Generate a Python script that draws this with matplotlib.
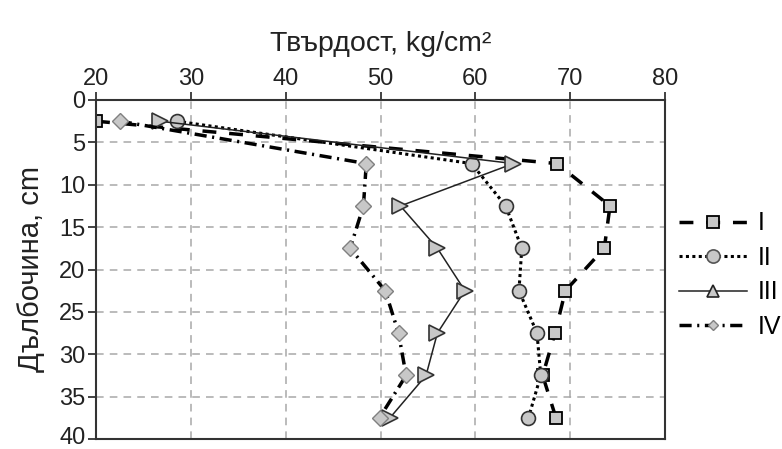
import matplotlib
matplotlib.use("Agg")
import matplotlib.pyplot as plt
from matplotlib.lines import Line2D
from matplotlib.transforms import ScaledTranslation

plt.rcParams['font.family'] = ['Liberation Sans', 'DejaVu Sans']

# depth (cm) and hardness (kg/cm2)
depth = [2.5, 7.5, 12.5, 17.5, 22.5, 27.5, 32.5, 37.5]
ser_I = [20.0, 68.6, 74.2, 73.6, 69.5, 68.4, 67.1, 68.5]
ser_II = [28.5, 59.6, 63.2, 64.9, 64.6, 66.5, 66.9, 65.6]
ser_III = [26.7, 64.0, 52.1, 56.0, 58.9, 56.0, 54.8, 51.0]
ser_IV = [22.5, 48.5, 48.2, 46.8, 50.5, 51.9, 52.7, 49.9]
labels = ['I', 'II', 'III', 'IV']

fig = plt.figure(figsize=(7.82, 4.49), dpi=100)
ax = fig.add_axes([96/782, 1-439/449, (665-96)/782, (439-100)/449])

mfc = '#c8c8c8'
st_I = dict(color='black', lw=2.5, dashes=(4, 3.7))
st_II = dict(color='black', lw=2.2, linestyle=(0, (1, 1.1)))
st_III = dict(color='#222222', lw=1.1, linestyle='-')
st_IV = dict(color='black', lw=2.5, dashes=(3.5, 1.6, 0.6, 1.6))

ax.plot(ser_I, depth, marker='s', ms=9, mfc=mfc, mec='black', mew=1.3, **st_I)
ax.plot(ser_II, depth, marker='o', ms=10, mfc=mfc, mec='#333333', mew=1.2, **st_II)
ax.plot(ser_III, depth, marker='>', ms=11, mfc=mfc, mec='#333333', mew=1.2, **st_III)
ax.plot(ser_IV, depth, marker='D', ms=8.3, mfc=mfc, mec='#808080', mew=1.0, **st_IV)

ax.set_xlim(20, 80)
ax.set_ylim(40, 0)
ax.set_xticks(range(20, 81, 10))
ax.set_yticks(range(0, 41, 5))
ax.xaxis.tick_top()
ax.xaxis.set_label_position('top')
ax.tick_params(direction='out', length=5.5, width=1.2, labelsize=17, colors='#222222', pad=2)
ax.grid(True, color='#a8a8a8', linestyle=(0, (5, 4)), lw=1.1)
for s in ax.spines.values():
    s.set_linewidth(1.5)
    s.set_color('#333333')

# the bottom label sits right at the edge, nudge it up a little
lab40 = ax.get_yticklabels()[-1]
lab40.set_transform(lab40.get_transform() + ScaledTranslation(0, 4/100, fig.dpi_scale_trans))

ax.set_xlabel('Твърдост, kg/cm²', fontsize=20.5, labelpad=12, color='#222222')
ax.set_ylabel('Дълбочина, cm', fontsize=21, labelpad=10, color='#222222')

# legend shows smaller markers and an upward triangle for III
handles = [
    Line2D([], [], marker='s', ms=9, mfc=mfc, mec='black', mew=1.3, **st_I),
    Line2D([], [], marker='o', ms=9.5, mfc=mfc, mec='#555555', mew=1.2, **st_II),
    Line2D([], [], marker='^', ms=8, mfc=mfc, mec='#222222', mew=1.2, **st_III),
    Line2D([], [], marker='D', ms=5.5, mfc=mfc, mec='#808080', mew=1.0, **st_IV),
]
fig.legend(handles, labels, loc='center left', bbox_to_anchor=(679/782, 1-275/449),
           frameon=False, fontsize=18, handlelength=2.7, handletextpad=0.45,
           labelspacing=0.42, numpoints=1, borderaxespad=0, borderpad=0)

fig.savefig('out.png', dpi=100)
